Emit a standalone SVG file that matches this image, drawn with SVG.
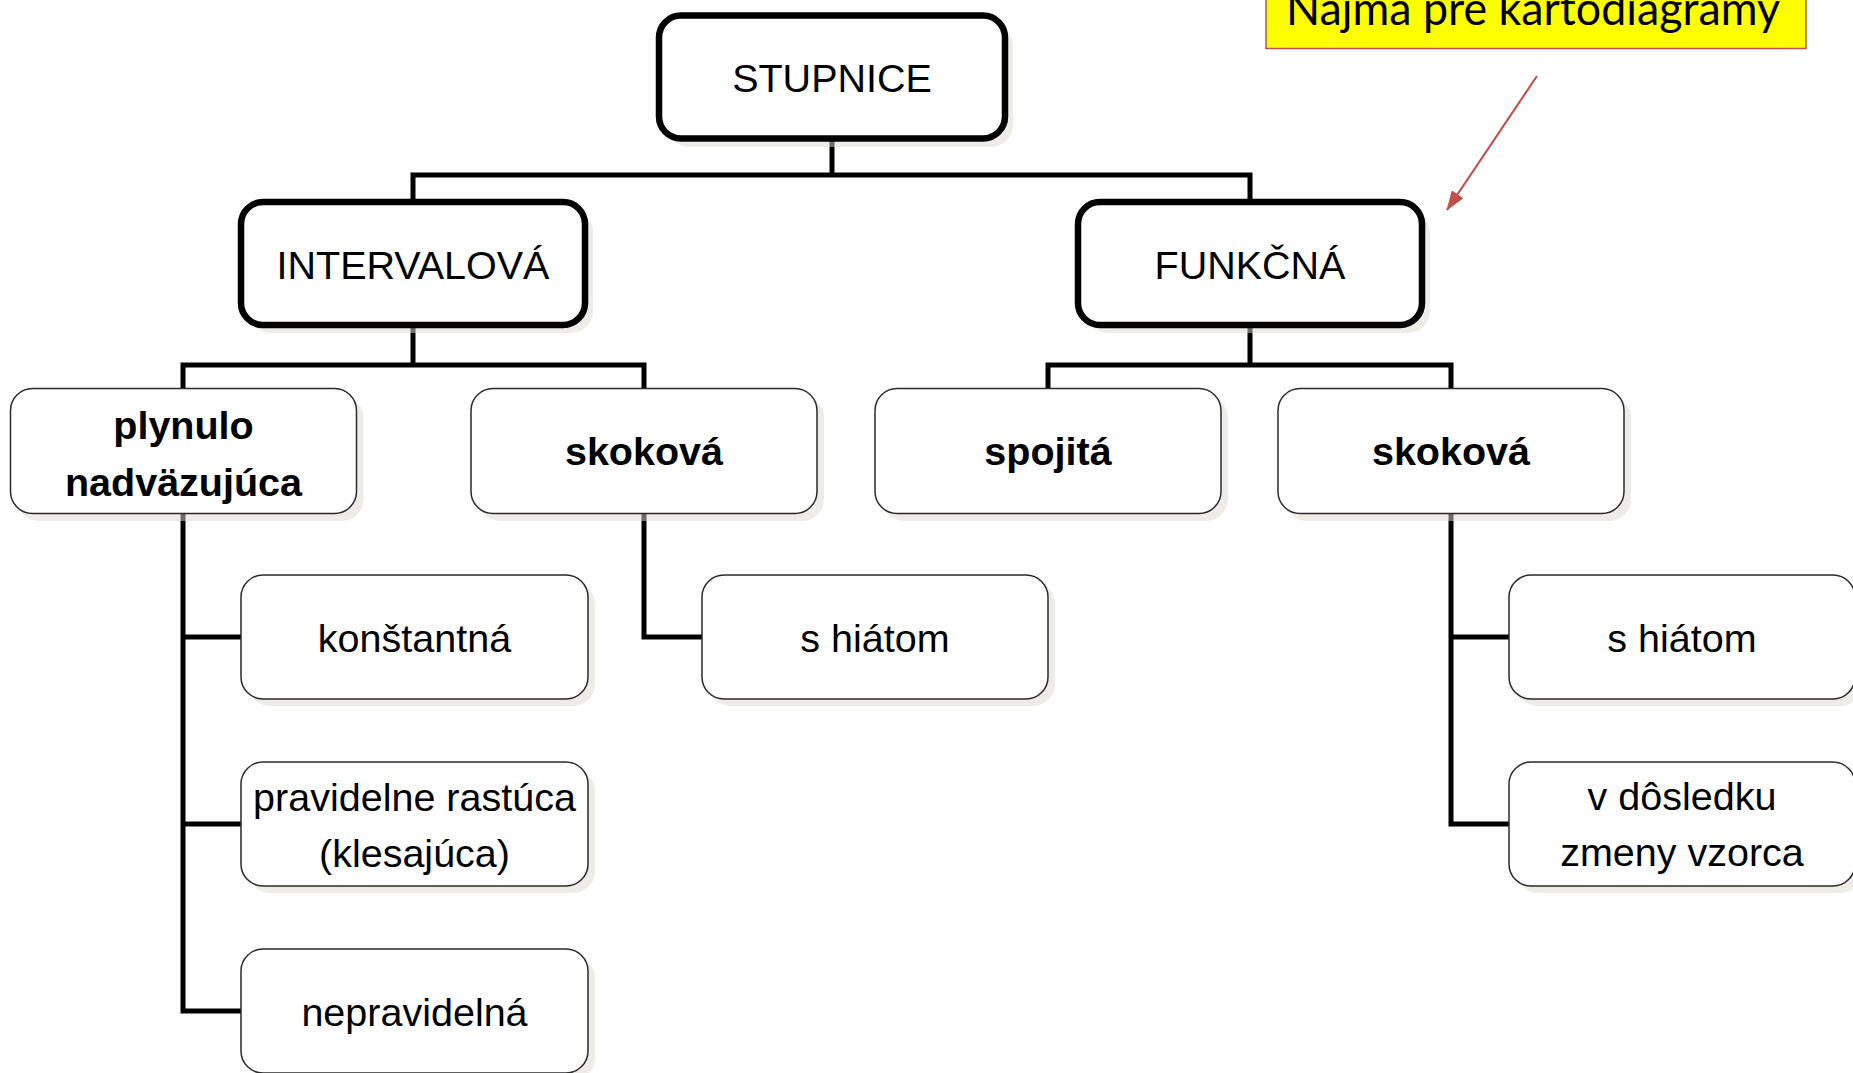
<svg xmlns="http://www.w3.org/2000/svg" width="1853" height="1073" viewBox="0 0 1853 1073">
  <defs>
    <style>
      .bg { fill: #ffffff; }
      .conn { stroke: #000000; stroke-width: 5; fill: none; stroke-linecap: butt; }
      .shadow { fill: #dcdace; opacity: 0.5; }
      .thick { fill: #ffffff; stroke: #000000; stroke-width: 6.5; }
      .thin { fill: #ffffff; stroke: #2a2a2a; stroke-width: 1.5; }
      .t { font-family: "Liberation Sans", Arial, sans-serif; font-size: 39.5px; fill: #000000; text-anchor: middle; }
      .b { font-weight: bold; }
      .note { font-family: Lato, "Open Sans", sans-serif; font-size: 46px; fill: #000000; }
    </style>
    <marker id="arrow" viewBox="0 0 20 14" refX="19" refY="7" markerWidth="20" markerHeight="14" markerUnits="userSpaceOnUse" orient="auto">
      <path d="M0,0 L20,7 L0,14 z" fill="#c0504d"/>
    </marker>
  </defs>
  <rect class="bg" x="0" y="0" width="1853" height="1073"/>

  <g id="connectors">
    <path class="conn" d="M832,139 V175 M413,175 H1250 M413,172.5 V202 M1250,172.5 V202"/>
    <path class="conn" d="M413,325 V365 M183,365 H644 M183,362.5 V389 M644,362.5 V389"/>
    <path class="conn" d="M1250,325 V365 M1048,365 H1451 M1048,362.5 V389 M1451,362.5 V389"/>
    <path class="conn" d="M183,513 V1013.5 M180.5,637 H241 M180.5,824 H241 M180.5,1011 H241"/>
    <path class="conn" d="M644,513 V639.5 M641.5,637 H702"/>
    <path class="conn" d="M1451,513 V826.5 M1448.5,637 H1509 M1448.5,824 H1509"/>
    <line x1="1537" y1="76" x2="1447" y2="210" stroke="#c0504d" stroke-width="2.2" marker-end="url(#arrow)"/>
  </g>

  <g id="note">
    <rect x="1266" y="-20" width="540" height="68.5" fill="#ffff00" stroke="#c0504d" stroke-width="1.5"/>
    <text class="note" x="1286" y="25" textLength="494" lengthAdjust="spacingAndGlyphs">Najma pre kartodiagramy</text>
  </g>

  <g id="n-stupnice">
    <rect class="shadow" x="667" y="24" width="346" height="123" rx="22"/>
    <rect class="thick" x="659" y="15.5" width="346" height="123" rx="22"/>
    <text class="t" x="832" y="92">STUPNICE</text>
  </g>

  <g id="n-intervalova">
    <rect class="shadow" x="249" y="210" width="344" height="123" rx="22"/>
    <rect class="thick" x="241" y="202" width="344" height="123" rx="22"/>
    <text class="t" x="413" y="279">INTERVALOVÁ</text>
  </g>

  <g id="n-funkcna">
    <rect class="shadow" x="1086" y="210" width="344" height="123" rx="22"/>
    <rect class="thick" x="1078" y="202" width="344" height="123" rx="22"/>
    <text class="t" x="1250" y="279">FUNKČNÁ</text>
  </g>

  <g id="n-plynulo">
    <rect class="shadow" x="17.5" y="396" width="346" height="125" rx="22"/>
    <rect class="thin" x="10.5" y="388.5" width="346" height="125" rx="22"/>
    <text class="t b" x="183.5" y="439">plynulo</text>
    <text class="t b" x="183.5" y="496">nadväzujúca</text>
  </g>

  <g id="n-skokova-l">
    <rect class="shadow" x="478" y="396" width="346" height="125" rx="22"/>
    <rect class="thin" x="471" y="388.5" width="346" height="125" rx="22"/>
    <text class="t b" x="644" y="465">skoková</text>
  </g>

  <g id="n-spojita">
    <rect class="shadow" x="882" y="396" width="346" height="125" rx="22"/>
    <rect class="thin" x="875" y="388.5" width="346" height="125" rx="22"/>
    <text class="t b" x="1048" y="465">spojitá</text>
  </g>

  <g id="n-skokova-r">
    <rect class="shadow" x="1285" y="396" width="346" height="125" rx="22"/>
    <rect class="thin" x="1278" y="388.5" width="346" height="125" rx="22"/>
    <text class="t b" x="1451" y="465">skoková</text>
  </g>

  <g id="n-konstantna">
    <rect class="shadow" x="248" y="582" width="347" height="124" rx="22"/>
    <rect class="thin" x="241" y="575" width="347" height="124" rx="22"/>
    <text class="t" x="414.5" y="652">konštantná</text>
  </g>

  <g id="n-pravidelne">
    <rect class="shadow" x="248" y="769" width="347" height="124" rx="22"/>
    <rect class="thin" x="241" y="762" width="347" height="124" rx="22"/>
    <text class="t" x="414.5" y="811">pravidelne rastúca</text>
    <text class="t" x="414.5" y="867">(klesajúca)</text>
  </g>

  <g id="n-nepravidelna">
    <rect class="shadow" x="248" y="956" width="347" height="124" rx="22"/>
    <rect class="thin" x="241" y="949" width="347" height="124" rx="22"/>
    <text class="t" x="414.5" y="1026">nepravidelná</text>
  </g>

  <g id="n-hiatom-l">
    <rect class="shadow" x="709" y="582" width="346" height="124" rx="22"/>
    <rect class="thin" x="702" y="575" width="346" height="124" rx="22"/>
    <text class="t" x="875" y="652">s hiátom</text>
  </g>

  <g id="n-hiatom-r">
    <rect class="shadow" x="1516" y="582" width="346" height="124" rx="22"/>
    <rect class="thin" x="1509" y="575" width="346" height="124" rx="22"/>
    <text class="t" x="1682" y="652">s hiátom</text>
  </g>

  <g id="n-dosledku">
    <rect class="shadow" x="1516" y="769" width="346" height="124" rx="22"/>
    <rect class="thin" x="1509" y="762" width="346" height="124" rx="22"/>
    <text class="t" x="1682" y="810">v dôsledku</text>
    <text class="t" x="1682" y="866">zmeny vzorca</text>
  </g>
</svg>
